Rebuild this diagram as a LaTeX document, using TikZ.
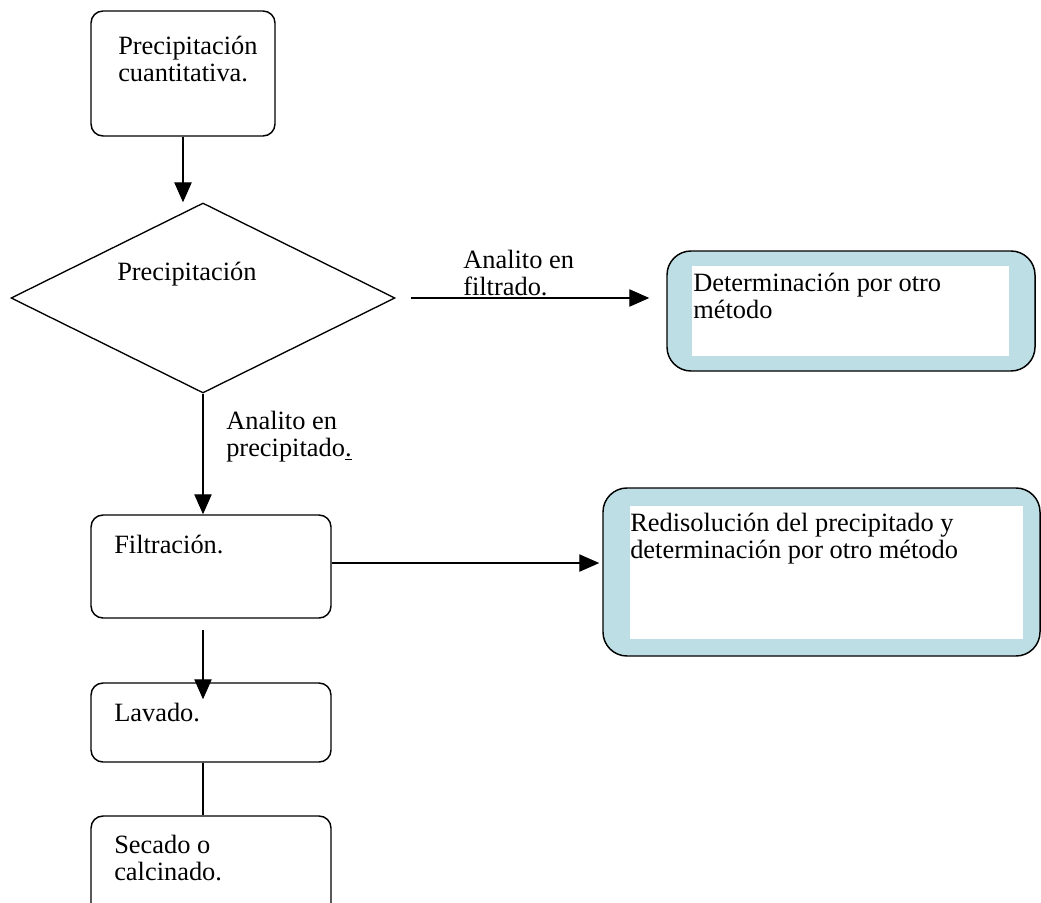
\documentclass[tikz,border=0pt]{standalone}
\usepackage{fontspec}
\setmainfont{Liberation Serif}
\usetikzlibrary{positioning, arrows.meta, shapes.geometric}
\definecolor{paleblue}{RGB}{188,222,228}

\tikzset{
  stage/.style={draw, rounded corners=9pt, line width=1.1pt, inner sep=0pt},
  outcome/.style={draw, fill=paleblue, rounded corners=18pt, line width=1.1pt, inner sep=0pt},
  blank/.style={fill=white, inner sep=0pt},
  txt/.style={anchor=north west, inner sep=0pt, align=left, font=\fontsize{19.8}{20.5}\selectfont},
  flow/.style={-{Triangle[length=15pt,width=13pt]}, line width=1pt},
}

\begin{document}
\begin{tikzpicture}[x=0.75pt, y=-0.75pt]
  \useasboundingbox (0,0) rectangle (1041,902);

  % process column
  \node[stage, minimum width=138pt, minimum height=93.75pt] (cuant) at (183,73.5) {};
  \node[draw, diamond, line width=1pt, inner sep=0pt, minimum width=288pt, minimum height=142.5pt] (dec) at (203,298) {};
  \node[stage, minimum width=180pt, minimum height=77.25pt] (filt) at (211,566.5) {};
  \node[stage, minimum width=180pt, minimum height=59.25pt] (lav) at (211,722.5) {};
  \node[stage, minimum width=180pt, minimum height=75pt] (sec) at (211,866) {};

  % outcome boxes
  \node[outcome, minimum width=276pt, minimum height=90pt] (detA) at (851,311) {};
  \node[blank, minimum width=237.75pt, minimum height=67.5pt] (detAin) at (850.5,311) {};
  \node[outcome, minimum width=327.75pt, minimum height=126pt] (redis) at (821.5,572) {};
  \node[blank, minimum width=294.75pt, minimum height=99.75pt] (redisin) at (826.5,572.5) {};

  % texts
  \node[txt] (tcuant) at (118,36) {Precipitación\\cuantitativa.};
  \node[txt] (tdec) at (117,262) {Precipitación};
  \node[txt] (tfiltrado) at (463,250) {Analito en\\filtrado.};
  \node[txt] (tdetA) at (693,273) {Determinación por otro\\método};
  \node[txt] (tprecip) at (226,411) {Analito en\\precipitado\underline{.}};
  \node[txt] (tredis) at (630,513) {Redisolución del precipitado y\\determinación por otro método};
  \node[txt] (tfilt) at (114,535) {Filtración.};
  \node[txt] (tlav) at (114,703) {Lavado.};
  \node[txt] (tsec) at (114,835) {Secado o\\calcinado.};

  % connectors
  \draw[flow] (cuant.south) -- (cuant.south |- dec.north);
  \draw[flow, shorten >=12.75pt] ([xshift=11.25pt]dec.east) -- (dec.east -| detA.west);
  \draw[flow] (dec.south) -- (dec.south |- filt.north);
  \draw[flow, shorten >=2.25pt] ([yshift=2.6pt]filt.east) -- ([yshift=2.6pt]filt.east -| redis.west);
  \draw[flow] ([xshift=-6pt,yshift=-8.25pt]filt.south) -- ([xshift=-6pt,yshift=-12.75pt]lav.north);
  \draw[line width=1pt] ([xshift=-6pt]lav.south) -- ([xshift=-6pt]sec.north);
\end{tikzpicture}
\end{document}
